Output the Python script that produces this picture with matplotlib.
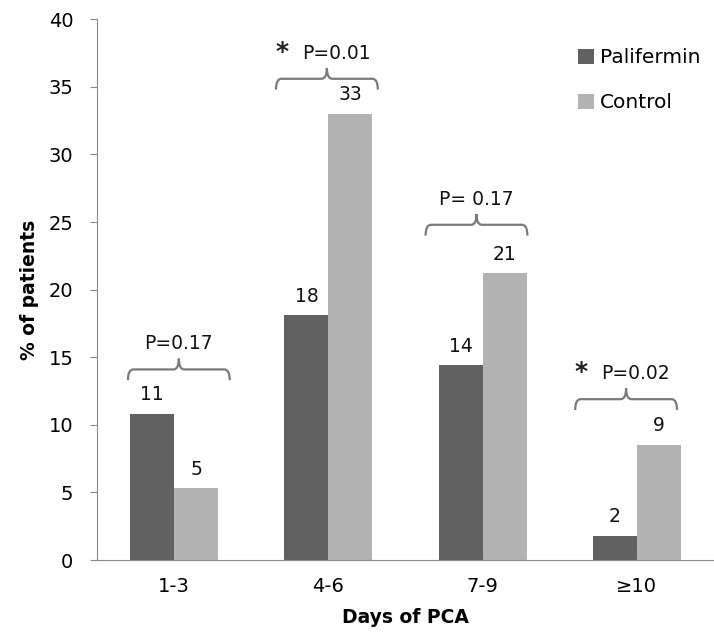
import numpy as np
import matplotlib.pyplot as plt
from matplotlib.path import Path
from matplotlib.patches import PathPatch

categories = ['1-3', '4-6', '7-9', '\u226510']
palifermin = [10.8, 18.1, 14.4, 1.8]
control = [5.3, 33.0, 21.2, 8.5]
palifermin_labels = ['11', '18', '14', '2']
control_labels = ['5', '33', '21', '9']
p_values = ['P=0.17', 'P=0.01', 'P= 0.17', 'P=0.02']
significant = [False, True, False, True]

dark = '#616161'
light = '#b3b3b3'
brace_col = '#7a7a7a'


def brace(ax, xm, y, half=0.33, drop=0.8, cusp=0.8, dx=0.035):
    x0, x1 = xm - half, xm + half
    verts = [(x0, y - drop), (x0, y), (x0 + dx, y), (xm - dx, y), (xm, y), (xm, y + cusp),
             (xm, y + cusp), (xm, y), (xm + dx, y), (x1 - dx, y), (x1, y), (x1, y - drop)]
    codes = [Path.MOVETO, Path.CURVE3, Path.CURVE3, Path.LINETO, Path.CURVE3, Path.CURVE3,
             Path.MOVETO, Path.CURVE3, Path.CURVE3, Path.LINETO, Path.CURVE3, Path.CURVE3]
    ax.add_patch(PathPatch(Path(verts, codes), fill=False, ec=brace_col, lw=1.6))


fig = plt.figure(figsize=(7.14, 6.43), dpi=100)
ax = fig.add_axes([0.136, 0.129, 0.864, 0.841])

x = np.arange(len(categories))
w = 0.285
b1 = ax.bar(x - w / 2, palifermin, w, color=dark, label='Palifermin')
b2 = ax.bar(x + w / 2, control, w, color=light, label='Control')

for bars, labs in ((b1, palifermin_labels), (b2, control_labels)):
    for bar, lab in zip(bars, labs):
        ax.annotate(lab, (bar.get_x() + bar.get_width() / 2, bar.get_height()),
                    xytext=(0, 7), textcoords='offset points', ha='center', va='bottom',
                    fontsize=13.5, color='#111111')

# brackets: centre shift and line height for each group
shifts = [0.03, -0.01, -0.04, -0.07]
levels = [14.1, 35.6, 24.8, 11.9]
for i in range(len(categories)):
    xm = x[i] + shifts[i]
    brace(ax, xm, levels[i])
    ax.text(xm + (0.06 if significant[i] else 0), levels[i] + 1.2, p_values[i],
            ha='center', va='bottom', fontsize=13.5, color='#111111')
    if significant[i]:
        ax.text(xm - 0.29, levels[i] + 1.1, '*', ha='center', va='bottom',
                fontsize=18, fontweight='bold', color='#222222')

ax.set_xlim(-0.5, 3.5)
ax.set_ylim(0, 40)
ax.set_yticks(range(0, 41, 5))
ax.set_xticks(x)
ax.set_xticklabels(categories)
ax.tick_params(axis='x', length=0, pad=12, labelsize=14)
ax.tick_params(axis='y', length=5, color='#888888', pad=12, labelsize=14)
for s in ('top', 'right'):
    ax.spines[s].set_visible(False)
for s in ('left', 'bottom'):
    ax.spines[s].set_color('#888888')

ax.set_xlabel('Days of PCA', fontsize=13.5, fontweight='bold', labelpad=9)
ax.set_ylabel('% of patients', fontsize=13.5, fontweight='bold', labelpad=7)

ax.legend(loc='upper left', bbox_to_anchor=(0.75, 0.98), frameon=False, fontsize=14.5,
          handlelength=0.8, handleheight=0.8, handletextpad=0.3, labelspacing=1.3)

fig.savefig('out.png', dpi=100)
